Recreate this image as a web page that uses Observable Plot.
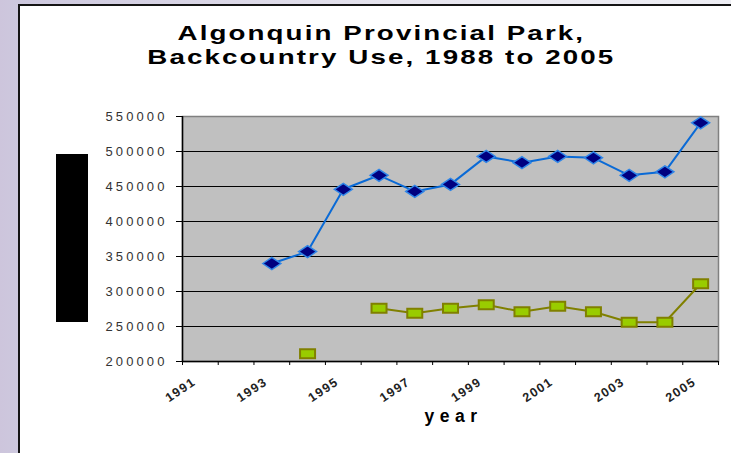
<!DOCTYPE html>
<html>
<head>
<meta charset="utf-8">
<script src="https://cdn.jsdelivr.net/npm/d3@7"></script>
<script src="https://cdn.jsdelivr.net/npm/@observablehq/plot@0.6"></script>
<style>
  html, body { margin: 0; padding: 0; }
  body { width: 731px; height: 453px; overflow: hidden; position: relative;
         background: linear-gradient(90deg, #cdc5dc 0px, #cdc8de 18px, #e6e4ee 400px, #eeeef4 731px);
         font-family: "Liberation Sans", Arial, sans-serif; }
  #frame { position: absolute; left: 18px; top: 4px; width: 713px; height: 449px;
           background: #fff; border-left: 2px solid #151515; border-top: 2px solid #151515; box-sizing: border-box; }
  #title { position: absolute; left: 0; width: 763px; top: 21px; text-align: center;
           font-weight: bold; font-size: 21px; line-height: 24px; letter-spacing: 1.6px; color: #000;
           transform: scaleX(1.32); transform-origin: 382px 0; }
  #chart { position: absolute; left: 0; top: 100px; }
  #blackbox { position: absolute; left: 56px; top: 154px; width: 32px; height: 168px; background: #000; }
  #chart g[aria-label="y-axis tick label"] text { letter-spacing: 3.1px; }
  #chart g[aria-label="x-axis tick label"] text { letter-spacing: 1.4px; }
  #chart g[aria-label="text"] text { letter-spacing: 5.5px; }
</style>
</head>
<body>
<div id="frame"></div>
<div id="title">Algonquin Provincial Park,<br>Backcountry Use, 1988 to 2005</div>
<div id="chart"></div>
<div id="blackbox"></div>
<script>
// Data
const years = [1991, 1992, 1993, 1994, 1995, 1996, 1997, 1998, 1999, 2000, 2001, 2002, 2003, 2004, 2005];
const blueSeries = [null, null, 340000, 357000, 446000, 466000, 443000, 453000, 493000, 484000, 493000, 491000, 466000, 471000, 541000];
const greenSeries = [null, null, null, 211000, null, 276000, 269000, 276000, 281000, 271000, 279000, 271000, 256000, 256000, 311000];
const yTicks = [200000, 250000, 300000, 350000, 400000, 450000, 500000, 550000];
const xTickLabels = [1991, 1993, 1995, 1997, 1999, 2001, 2003, 2005];
const xAxisTitle = ["year"];

const blue = years.map((yr, i) => ({year: yr, value: blueSeries[i]}));
const green = years.map((yr, i) => ({year: yr, value: greenSeries[i]}));
const boundaries = years.map(yr => yr - 0.5).concat([years[years.length - 1] + 0.5]);

const diamond = {
  draw(ctx, size) {
    ctx.moveTo(-9, 0); ctx.lineTo(0, -6); ctx.lineTo(9, 0); ctx.lineTo(0, 6); ctx.closePath();
  }
};
const rect = {
  draw(ctx, size) {
    ctx.moveTo(-7.5, -4.5); ctx.lineTo(7.5, -4.5); ctx.lineTo(7.5, 4.5); ctx.lineTo(-7.5, 4.5); ctx.closePath();
  }
};

const chart = Plot.plot({
  width: 731,
  height: 340,
  marginLeft: 182,
  marginRight: 13,
  marginTop: 16,
  marginBottom: 79,
  style: {background: "transparent", overflow: "visible", fontFamily: "'Liberation Sans', Arial, sans-serif"},
  x: {type: "linear", domain: [years[0] - 0.5, years[years.length - 1] + 0.5]},
  y: {domain: [200000, 550000]},
  marks: [
    Plot.frame({fill: "#c0c0c0", stroke: "none"}),
    Plot.gridY(yTicks.slice(1, -1), {stroke: "#000", strokeOpacity: 1, strokeWidth: 1}),
    Plot.frame({stroke: "#808080", strokeWidth: 1.5}),
    Plot.ruleX([years[0] - 0.5], {stroke: "#000", strokeWidth: 1.5}),
    Plot.ruleY([200000], {stroke: "#000", strokeWidth: 1.5}),
    Plot.axisY(yTicks, {
      tickSize: 6, tickPadding: 9, tickFormat: d => String(d), fontSize: 13,
      fill: "#333", stroke: "#000", label: null
    }),
    Plot.axisX(boundaries, {tickSize: 4, tickFormat: () => "", label: null, stroke: "#000"}),
    Plot.axisX(xTickLabels, {
      tickSize: 0, tickPadding: 19, tickRotate: -34, tickFormat: d => String(d),
      fontSize: 12.5, fontWeight: "bold", fill: "#222", label: null, dx: -6
    }),
    Plot.line(green, {x: "year", y: "value", stroke: "#808000", strokeWidth: 2}),
    Plot.dot(green, {x: "year", y: "value", symbol: rect, fill: "#99cc00", stroke: "#808000", strokeWidth: 2}),
    Plot.line(blue, {x: "year", y: "value", stroke: "#0a6ad6", strokeWidth: 2}),
    Plot.dot(blue, {x: "year", y: "value", symbol: diamond, fill: "#000080", stroke: "#2f86e8", strokeWidth: 1.5}),
    Plot.text(xAxisTitle, {
      frameAnchor: "bottom", dy: 60, dx: 3, text: d => d, fontSize: 17.5, fontWeight: "bold",
      fill: "#000"
    })
  ]
});
document.getElementById("chart").appendChild(chart);
</script>
</body>
</html>
